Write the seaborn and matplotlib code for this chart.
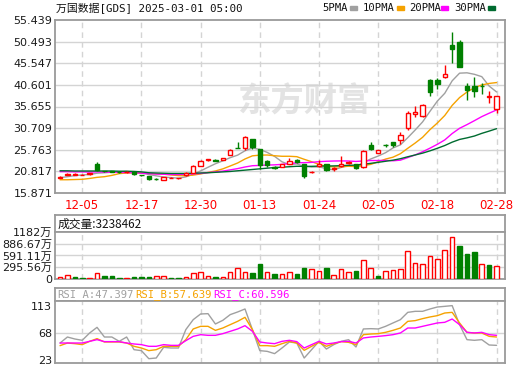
import numpy as np
import pandas as pd
import matplotlib
matplotlib.use("Agg")
import matplotlib.pyplot as plt
import seaborn as sns

# --- data ---
dates = ["12-02", "12-03", "12-04", "12-05", "12-06", "12-09", "12-10", "12-11", "12-12", "12-13",
         "12-16", "12-17", "12-18", "12-19", "12-20", "12-23", "12-24", "12-26", "12-27", "12-30",
         "12-31", "01-02", "01-03", "01-06", "01-07", "01-08", "01-10", "01-13", "01-14", "01-15",
         "01-16", "01-17", "01-21", "01-22", "01-23", "01-24", "01-27", "01-28", "01-29", "01-30",
         "01-31", "02-03", "02-04", "02-05", "02-06", "02-07", "02-10", "02-11", "02-12", "02-13",
         "02-14", "02-18", "02-19", "02-20", "02-21", "02-24", "02-25", "02-26", "02-27", "02-28"]

opens = [19.4, 20.0, 20.1, 20.05, 20.2, 22.5, 20.9, 20.8, 20.7, 20.6,
         20.65, 20.0, 19.65, 19.15, 18.9, 19.3, 19.25, 19.9, 20.55, 22.15,
         23.5, 23.5, 23.45, 24.65, 26.25, 26.05, 28.2, 25.9, 23.1, 21.9,
         21.9, 22.6, 23.4, 22.4, 20.6, 22.05, 22.5, 21.45, 22.0, 22.7,
         22.45, 21.8, 26.78, 25.1, 26.85, 27.54, 27.93, 30.67, 33.88, 33.5,
         41.72, 41.65, 42.4, 49.72, 50.34, 40.35, 40.35, 40.4, 37.85, 35.1]
highs = [19.8, 20.5, 20.4, 20.3, 20.5, 23.0, 21.0, 20.9, 20.9, 20.85,
         20.8, 20.1, 19.7, 19.3, 19.5, 19.5, 19.4, 20.7, 22.2, 23.4,
         23.7, 23.6, 23.9, 26.0, 27.6, 28.9, 28.3, 26.0, 23.4, 22.0,
         22.5, 23.9, 23.6, 22.5, 21.0, 23.4, 22.6, 21.8, 24.3, 23.1,
         22.6, 25.7, 27.62, 25.8, 27.1, 27.6, 29.76, 34.56, 35.84, 36.2,
         41.9, 42.1, 45.15, 52.6, 50.87, 40.96, 42.47, 41.1, 39.2, 38.1]
lows = [19.3, 19.9, 20.0, 19.95, 20.1, 21.0, 20.6, 20.6, 20.5, 20.5,
        20.1, 19.8, 18.95, 18.9, 18.85, 19.2, 19.15, 19.85, 20.4, 22.0,
        23.2, 23.2, 23.4, 24.5, 26.15, 25.7, 25.9, 21.45, 21.9, 21.4,
        21.8, 22.5, 22.8, 19.4, 20.4, 21.9, 20.9, 20.8, 21.9, 22.6,
        21.3, 21.6, 25.6, 25.0, 26.4, 26.5, 27.15, 30.28, 33.33, 33.3,
        38.06, 39.6, 42.1, 45.5, 44.6, 37.14, 37.9, 38.5, 36.4, 34.2]
closes = [19.6, 20.3, 20.15, 20.1, 20.35, 21.1, 20.8, 20.75, 20.65, 20.7,
          20.15, 19.95, 19.05, 19.1, 19.45, 19.4, 19.3, 20.55, 22.05, 23.3,
          23.6, 23.3, 23.85, 25.7, 26.2, 28.6, 26.5, 22.2, 22.3, 21.6,
          22.4, 23.3, 23.0, 19.65, 20.7, 22.6, 21.2, 21.7, 22.4, 22.95,
          21.55, 25.55, 25.87, 25.7, 26.78, 26.93, 29.14, 34.1, 34.47, 36.0,
          39.04, 40.88, 43.0, 48.73, 44.76, 39.43, 39.2, 40.3, 37.95, 38.0]

# volume in 万 shares
volume = [59, 109, 59, 34, 34, 159, 84, 84, 34, 34,
          59, 59, 59, 84, 84, 34, 34, 59, 159, 184,
          84, 59, 59, 184, 277, 184, 159, 385, 184, 134,
          134, 184, 134, 285, 251, 201, 285, 101, 251, 184,
          210, 478, 277, 84, 201, 226, 251, 704, 411, 377,
          578, 503, 729, 1056, 838, 637, 679, 377, 352, 323.8]

ma5 = [19.38, 19.6, 19.85, 20.0, 20.1, 20.4, 20.5, 20.62, 20.73, 20.8,
       20.61, 20.44, 20.1, 19.79, 19.54, 19.39, 19.26, 19.56, 20.15, 20.92,
       21.76, 22.56, 23.22, 23.95, 24.53, 25.53, 26.17, 25.84, 25.16, 24.24,
       23.0, 22.36, 22.52, 21.99, 21.81, 21.85, 21.43, 21.17, 21.72, 22.17,
       21.96, 22.83, 23.66, 24.32, 25.09, 26.17, 26.88, 28.53, 30.28, 32.13,
       34.55, 36.9, 38.68, 41.53, 43.28, 43.36, 43.02, 42.48, 40.33, 38.98]
ma10 = [18.9, 18.9, 18.95, 19.0, 19.2, 19.45, 19.6, 19.9, 20.3, 20.45,
        20.5, 20.47, 20.36, 20.26, 20.17, 20.0, 19.85, 19.83, 19.97, 20.23,
        20.58, 20.91, 21.39, 22.05, 22.73, 23.65, 24.37, 24.53, 24.56, 24.39,
        24.27, 24.27, 24.18, 23.58, 23.03, 22.43, 21.9, 21.85, 21.86, 21.99,
        21.91, 22.13, 22.42, 23.02, 23.63, 24.06, 24.86, 26.1, 27.3, 28.61,
        30.36, 31.89, 33.6, 35.91, 37.7, 38.96, 39.96, 40.58, 40.93, 41.13]
ma20 = [20.75, 20.75, 20.7, 20.7, 20.65, 20.7, 20.65, 20.6, 20.6, 20.55,
        20.5, 20.4, 20.3, 20.2, 20.15, 20.1, 20.1, 20.15, 20.25, 20.34,
        20.54, 20.69, 20.88, 21.16, 21.45, 21.82, 22.11, 22.18, 22.26, 22.31,
        22.42, 22.59, 22.79, 22.81, 22.88, 23.04, 23.13, 23.19, 23.21, 23.19,
        23.09, 23.2, 23.3, 23.3, 23.33, 23.24, 23.38, 23.97, 24.58, 25.3,
        26.13, 27.01, 28.01, 29.47, 30.67, 31.51, 32.41, 33.34, 34.12, 34.87]
ma30 = [20.95, 20.95, 20.9, 20.9, 20.9, 20.9, 20.9, 20.9, 20.85, 20.85,
        20.8, 20.7, 20.5, 20.45, 20.4, 20.35, 20.35, 20.35, 20.4, 20.45,
        20.5, 20.6, 20.7, 20.8, 20.95, 21.1, 21.25, 21.4, 21.55, 21.69,
        21.78, 21.88, 21.98, 21.96, 21.97, 22.02, 22.04, 22.07, 22.13, 22.2,
        22.25, 22.44, 22.66, 22.88, 23.13, 23.38, 23.71, 24.16, 24.57, 24.99,
        25.51, 26.1, 26.73, 27.5, 28.12, 28.48, 28.9, 29.51, 30.03, 30.58]

rsi_a = [51.3, 61.3, 58.0, 55.8, 68.0, 77.4, 61.3, 61.3, 54.1, 61.3,
         40.2, 38.6, 25.2, 26.3, 44.1, 43.0, 43.0, 73.6, 90.2, 99.7,
         100.2, 83.0, 89.1, 98.6, 103.0, 108.0, 73.6, 38.6, 37.4, 33.6,
         43.0, 53.0, 51.3, 26.3, 40.2, 54.1, 41.3, 48.6, 54.1, 56.9,
         44.7, 74.7, 75.2, 74.7, 79.1, 84.7, 90.2, 102.4, 104.1, 104.1,
         108.0, 111.3, 112.4, 113.6, 81.9, 56.9, 55.8, 56.9, 48.0, 47.4]
rsi_b = [46.9, 51.3, 50.2, 48.6, 54.1, 58.6, 53.0, 53.0, 53.0, 51.3,
         45.8, 43.0, 38.6, 40.2, 45.8, 45.8, 45.8, 56.9, 74.7, 79.1,
         79.1, 72.4, 76.3, 81.9, 87.4, 94.1, 73.6, 46.9, 46.9, 45.8,
         50.2, 54.1, 51.3, 39.1, 45.8, 52.4, 45.8, 50.2, 53.6, 52.4,
         48.6, 65.2, 66.3, 66.9, 69.1, 72.4, 76.3, 87.4, 88.6, 91.9,
         94.7, 96.9, 101.3, 102.4, 84.7, 69.1, 68.0, 68.0, 62.4, 61.3]
rsi_c = [51.3, 51.3, 51.3, 51.3, 54.1, 56.9, 53.6, 53.6, 53.6, 51.3,
         49.7, 48.6, 45.8, 45.8, 48.6, 47.4, 47.4, 55.2, 62.4, 65.2,
         64.1, 64.1, 66.9, 70.8, 74.7, 80.2, 70.8, 53.0, 51.3, 50.2,
         54.1, 55.8, 53.6, 43.0, 48.6, 54.1, 49.7, 51.3, 53.6, 54.1,
         51.3, 59.7, 61.3, 62.4, 63.6, 65.2, 68.0, 76.3, 76.3, 79.1,
         81.9, 84.7, 85.8, 91.3, 81.9, 69.1, 68.0, 69.1, 65.2, 64.1]

price_ticks = [15.871, 20.817, 25.763, 30.709, 35.655, 40.601, 45.547, 50.493, 55.439]
vol_ticks = [0, 295.56, 591.11, 886.67, 1182]
vol_labels = ["0", "295.56万", "591.11万", "886.67万", "1182万"]
rsi_ticks = [23, 68, 113]
tick_pos = list(range(3, 60, 8))

RED = "#ff0000"
GREEN = "#008000"
GRID = "#d4d4d4"
FRAME = "#9a9a9a"
ma_colors = {"MA5": "#a0a0a0", "MA10": "#f5a200", "MA20": "#ff00ff", "MA30": "#006b30"}
rsi_colors = {"RSI_A": "#a0a0a0", "RSI_B": "#f5a200", "RSI_C": "#ff00ff"}

sns.set_style("white")
plt.rcParams["font.family"] = ["DejaVu Sans", "Noto Sans CJK SC"]

W, H = 520, 365
fig = plt.figure(figsize=(W / 100, H / 100), dpi=100)


def box(x0, y0, x1, y1):
    return [x0 / W, 1 - y1 / H, (x1 - x0) / W, (y1 - y0) / H]


ax_p = fig.add_axes(box(55, 20, 505, 193))
ax_vh = fig.add_axes(box(55, 215, 505, 232))
ax_v = fig.add_axes(box(55, 232, 505, 279))
ax_rh = fig.add_axes(box(55, 288, 505, 301))
ax_r = fig.add_axes(box(55, 301, 505, 363))

x = np.arange(len(closes))
o = np.array(opens)
c = np.array(closes)
up = c > o
col = np.where(up, RED, GREEN)

# --- price panel ---
ax_p.vlines(x, lows, highs, colors=col, lw=1, zorder=3)
ax_p.bar(x, np.maximum(np.abs(c - o), 0.05), bottom=np.minimum(o, c), width=0.6,
         color=np.where(up, "white", GREEN), edgecolor=col, linewidth=1, zorder=4)

ma_df = pd.DataFrame({"idx": x, "MA5": ma5, "MA10": ma10, "MA20": ma20, "MA30": ma30})
ma_df = ma_df.melt("idx", var_name="line", value_name="val")
sns.lineplot(data=ma_df, x="idx", y="val", hue="line", palette=ma_colors,
             linewidth=1, legend=False, ax=ax_p, zorder=2)

ax_p.set_ylim(price_ticks[0], price_ticks[-1])
ax_p.set_yticks(price_ticks)
ax_p.set_yticklabels([f"{t:.3f}" for t in price_ticks])
ax_p.set_xticks(tick_pos)
ax_p.set_xticklabels([dates[i] for i in tick_pos], color=RED, fontsize=8.5)
ax_p.text(0.455, 0.72, "东方财富", transform=fig.transFigure, fontsize=24,
          fontweight="bold", color="#e3e3e3", family="Noto Sans CJK SC",
          va="center", ha="left", zorder=0.5)

# --- volume panel ---
prev = np.r_[c[0] - 1, c[:-1]]
vup = c >= prev
ax_v.bar(x, volume, width=0.62, color=np.where(vup, "white", GREEN),
         edgecolor=np.where(vup, RED, GREEN), linewidth=1, zorder=3)
ax_v.set_ylim(0, 1182)
ax_v.set_yticks(vol_ticks)
ax_v.set_yticklabels(vol_labels)
ax_v.set_xticks([])

# --- RSI panel ---
rsi_df = pd.DataFrame({"idx": x, "RSI_A": rsi_a, "RSI_B": rsi_b, "RSI_C": rsi_c})
rsi_df = rsi_df.melt("idx", var_name="line", value_name="val")
sns.lineplot(data=rsi_df, x="idx", y="val", hue="line", palette=rsi_colors,
             linewidth=1, legend=False, ax=ax_r, zorder=2)
ax_r.set_ylim(18, 121.3)
ax_r.set_yticks(rsi_ticks)
ax_r.set_xticks([])
ax_r.axhline(68, color=GRID, lw=1, zorder=1)

for ax in (ax_p, ax_v, ax_r, ax_vh, ax_rh):
    ax.set_xlim(-0.68, 60.14)
    ax.set_xlabel("")
    ax.set_ylabel("")
    for s in ax.spines.values():
        s.set_color(FRAME)
        s.set_linewidth(1.3)
    ax.tick_params(length=0, pad=2, labelsize=8, labelcolor="#1a1a1a")

ax_p.tick_params(axis="x", pad=4, labelcolor=RED, labelsize=8.5)
for ax in (ax_p, ax_v, ax_r):
    for t in tick_pos:
        ax.axvline(t, color=GRID, lw=1, ls=(0, (4, 3)), zorder=1)
for t in price_ticks[1:-1]:
    ax_p.axhline(t, color=GRID, lw=1, zorder=1)
for t in vol_ticks[1:-1]:
    ax_v.axhline(t, color=GRID, lw=1, zorder=1)

for ax in (ax_vh, ax_rh):
    ax.set_xticks([])
    ax.set_yticks([])

ax_vh.text(0.005, 0.45, "成交量:3238462", transform=ax_vh.transAxes, fontsize=8.5,
           family="Noto Sans CJK SC", va="center", color="#111111")
rsi_heads = [("RSI_A:47.397", "RSI_A", 57), ("RSI_B:57.639", "RSI_B", 135), ("RSI_C:60.596", "RSI_C", 213)]
for txt, key, px in rsi_heads:
    fig.text(px / W, 1 - 295 / H, txt, fontsize=7.6, family="DejaVu Sans Mono",
             color=rsi_colors[key], va="center")

# --- title and legend ---
fig.text(56 / W, 1 - 8 / H, "万国数据[GDS] 2025-03-01 05:00", fontsize=7.8,
         family=["DejaVu Sans Mono", "Noto Sans CJK SC"], va="center", color="#111111")
legend_items = [("5PMA", "MA5", 322, 350), ("10PMA", "MA10", 363, 397),
                ("20PMA", "MA20", 409, 441), ("30PMA", "MA30", 454, 488)]
for txt, key, tx, sx in legend_items:
    fig.text(tx / W, 1 - 8 / H, txt, fontsize=7.6, family="DejaVu Sans Mono",
             va="center", color="#111111")
    fig.patches.append(plt.Rectangle((sx / W, 1 - 10 / H), 7 / W, 4 / H,
                                     transform=fig.transFigure, color=ma_colors[key]))

fig.savefig("out.png", dpi=100, facecolor="white")
